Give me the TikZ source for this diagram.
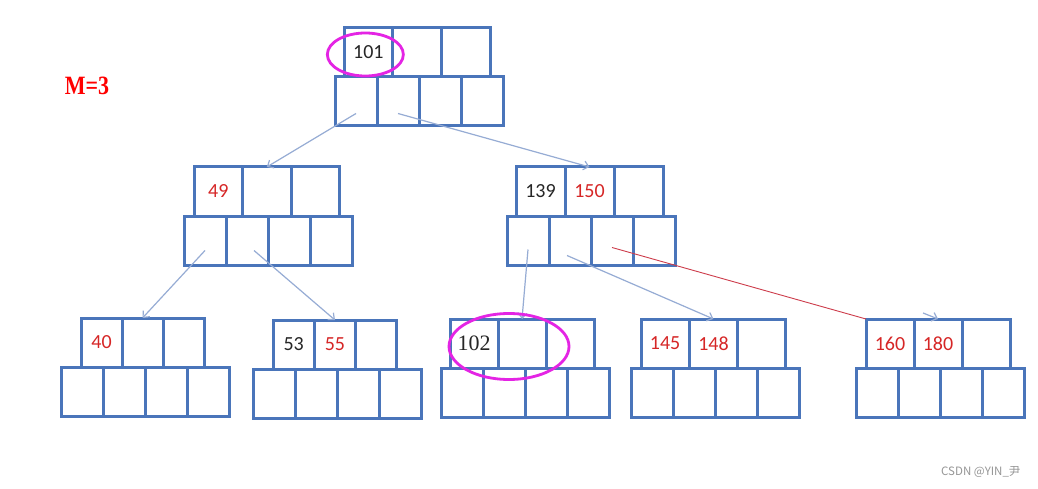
\documentclass[tikz,border=0pt]{standalone}
\usepackage{fontspec}
\setmainfont{Carlito}
\newfontfamily\serifnum{Liberation Serif}
\newfontfamily\cjk{Noto Sans CJK SC}
\usetikzlibrary{positioning,arrows.meta}

\definecolor{boxblue}{RGB}{74,117,186}
\definecolor{linkblue}{RGB}{150,172,212}
\definecolor{keyred}{RGB}{214,38,38}
\definecolor{linkred}{RGB}{205,60,75}
\definecolor{ringpink}{RGB}{228,36,228}
\definecolor{marktext}{RGB}{150,150,150}

\newcommand{\rk}[1]{\textcolor{keyred}{#1}}

% one B-tree node: 3 key cells over 4 pointer cells
% #1 name, (#2,#3) top left of keys, #4 key width, #5 left x of pointers, #6 #7 keys
\newcommand{\btnode}[7]{%
  \node[keycell, minimum width=#4pt, anchor=north west] (#1k1) at (#2,#3) {#6};
  \node[keycell, minimum width=#4pt, right=0pt of #1k1] (#1k2) {#7};
  \node[keycell, minimum width=#4pt, right=0pt of #1k2] (#1k3) {};
  \node[ptrcell, anchor=north west] (#1p1) at (#5,#3+49) {};
  \node[ptrcell, right=0pt of #1p1] (#1p2) {};
  \node[ptrcell, right=0pt of #1p2] (#1p3) {};
  \node[ptrcell, right=0pt of #1p3] (#1p4) {};
}

\begin{document}
\begin{tikzpicture}[
  x=1pt, y=-1pt,
  keycell/.style={rectangle, draw=boxblue, line width=3pt, minimum height=49pt,
                  inner sep=0pt, outer sep=0pt, font=\fontsize{20}{20}\selectfont, text=black!85},
  ptrcell/.style={rectangle, draw=boxblue, line width=3pt, minimum width=42pt,
                  minimum height=49pt, inner sep=0pt, outer sep=0pt},
  link/.style={-{Straight Barb[length=5pt, width=9pt]}, line width=1.2pt, linkblue},
  ring/.style={draw=ringpink, line width=2.8pt}
]
\fill[white] (0,0) rectangle (1038,489);
\useasboundingbox (0,0) rectangle (1038,489);

% M label
\node[font=\serifnum\bfseries\fontsize{22}{22}\selectfont, text=red, yscale=1.2] (order) at (87,86) {M=3};

% root
\btnode{root}{344}{28}{48.7}{335}{101}{}

% second level
\btnode{midl}{194}{167}{48.5}{184}{\rk{49}}{}
\btnode{midr}{516}{167}{49}{507}{139}{\rk{150}}

% leaves
\btnode{leafa}{81}{318}{41}{61}{\rk{40}}{}
\btnode{leafb}{273}{320}{41.3}{253}{53}{\rk{55}}
\btnode{leafc}{450}{319}{48}{441}{\serifnum\fontsize{22}{22}\selectfont 102}{}
\btnode{leafd}{641}{319}{48.3}{631}{\rk{145}}{\rk{148}}
\btnode{leafe}{866}{319}{48}{856}{\rk{160}}{\rk{180}}

% root -> second level
\draw[link] ([yshift=-12pt]rootp1.center) -- (midlk2.north);
\draw[link] ([yshift=-12pt]rootp2.center) -- (midrk2.north);

% second level -> leaves
\draw[link] ([yshift=-10pt]midlp1.center) -- (leafak2.north);
\draw[link] ([xshift=7pt, yshift=-10pt]midlp2.center) -- (leafbk2.north);
\draw[link] ([yshift=-9pt]midrp1.center) -- (leafck2.north);
\draw[link] ([xshift=-3pt, yshift=-15pt]midrp2.center) -- (leafdk2.north);
\draw[linkred, line width=0.9pt] ([yshift=-7pt]midrp3.center) -- (leafek1.north west);
\draw[link] ([xshift=-15pt, yshift=6pt]leafek2.north) -- (leafek2.north);

% highlights
\draw[ring] ([xshift=-3pt, yshift=-2pt]rootk1.center) ellipse [x radius=38pt, y radius=21.5pt];
\draw[ring] ([xshift=-13pt, yshift=-3pt]leafck2.center) ellipse [x radius=60pt, y radius=33pt];

% source mark
\node[font=\cjk\fontsize{11.5}{11.5}\selectfont, text=marktext, anchor=east] (mark) at (1024,472) {CSDN @YIN\_尹};
\end{tikzpicture}
\end{document}
